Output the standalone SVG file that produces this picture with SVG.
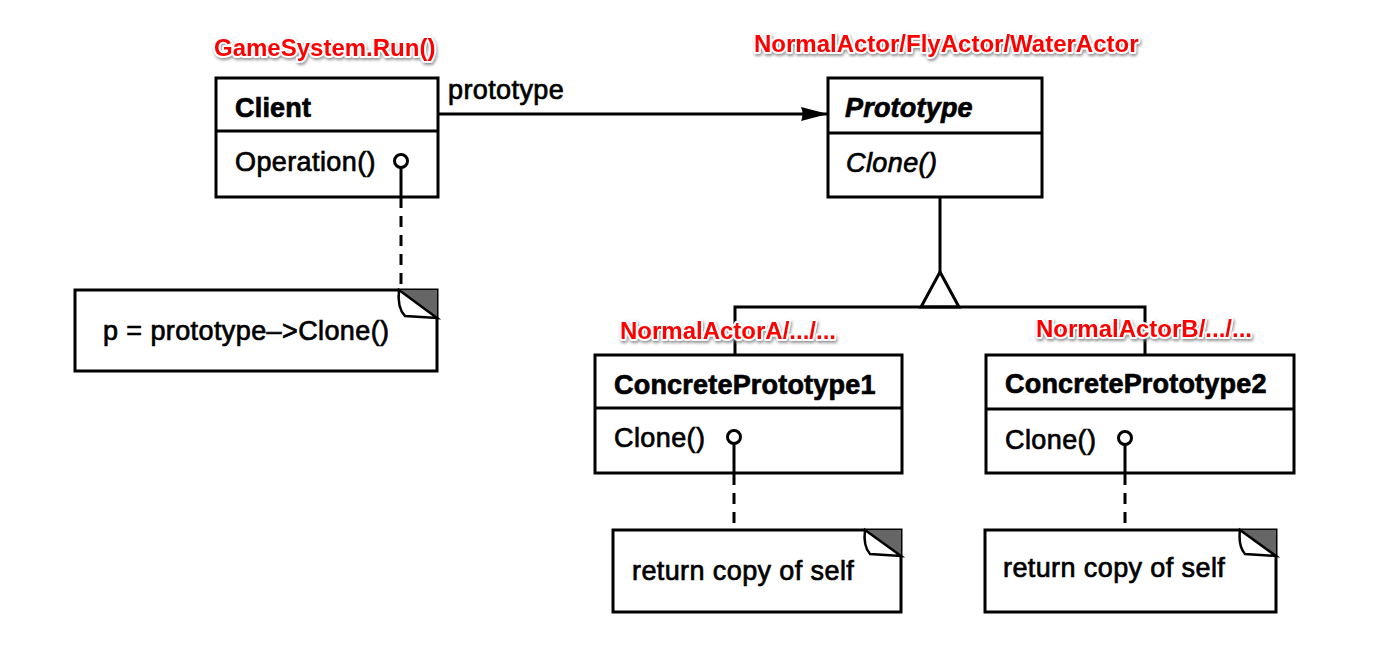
<svg xmlns="http://www.w3.org/2000/svg" width="1381" height="660" viewBox="0 0 1381 660">
<style>
.box{fill:#fff;stroke:#000;stroke-width:3}
.ln{fill:none;stroke:#000;stroke-width:3}
.dash{fill:none;stroke:#000;stroke-width:3;stroke-dasharray:11 8}
.t{font-family:"Liberation Sans",Arial,sans-serif;font-size:27px;letter-spacing:0.4px;fill:#000;stroke:#000;stroke-width:0.7}
.b{font-weight:bold;letter-spacing:0.2px}
.i{font-style:italic}
.red{font-family:"Liberation Sans",Arial,sans-serif;font-size:24px;font-weight:bold;fill:#f00;stroke:#fff;stroke-width:4;paint-order:stroke;stroke-linejoin:round;filter:url(#sh)}
.shade{fill:#666;stroke:none}
.fold{fill:#fff;stroke:#000;stroke-width:2.5}
.pin{fill:#fff;stroke:#000;stroke-width:3}
</style>
<defs>
<filter id="sh" x="-10%" y="-30%" width="120%" height="170%">
<feDropShadow dx="1" dy="2" stdDeviation="1.5" flood-color="#777" flood-opacity="0.8"/>
</filter>
<marker id="arr" markerWidth="30" markerHeight="20" refX="27" refY="10" orient="auto" markerUnits="userSpaceOnUse">
<path d="M0,3 L27,10 L0,17 Q3,10 0,3 Z" fill="#000"/>
</marker>
</defs>
<rect width="1381" height="660" fill="#fff"/>

<g id="connectors">
<line class="ln" x1="438" y1="114" x2="828" y2="114" marker-end="url(#arr)"/>
<line class="ln" x1="940" y1="197" x2="940" y2="272"/>
<path class="ln" d="M940,272 L921,307 L959,307 Z" fill="#fff"/>
<path class="ln" d="M735,355 V307 H1145 V355"/>
<line class="dash" x1="401" y1="197" x2="401" y2="290"/>
<line class="dash" x1="734" y1="474" x2="734" y2="530"/>
<line class="dash" x1="1125" y1="474" x2="1125" y2="530"/>
</g>

<g id="client">
<rect class="box" x="216" y="78" width="222" height="119"/>
<line class="ln" x1="216" y1="131" x2="438" y2="131"/>
<text class="t b" x="235" y="117">Client</text>
<text class="t" x="235" y="171">Operation()</text>
<circle class="pin" cx="401" cy="161" r="6.5"/>
<line class="ln" x1="401" y1="168" x2="401" y2="197"/>
</g>

<g id="client-note">
<path class="box" d="M75,290 H437 V371 H75 Z"/>
<path class="shade" d="M399,290 H437 V318 Z"/>
<path class="fold" d="M399,290 Q397,308 405,316 L437,318 Z"/>
<text class="t" x="103" y="340">p = prototype–&gt;Clone()</text>
</g>

<text class="t" x="448" y="99">prototype</text>

<g id="prototype">
<rect class="box" x="828" y="78" width="214" height="119"/>
<line class="ln" x1="828" y1="133" x2="1042" y2="133"/>
<text class="t b i" x="845" y="117">Prototype</text>
<text class="t i" x="846" y="172">Clone()</text>
</g>

<g id="concrete1">
<rect class="box" x="595" y="355" width="307" height="118"/>
<line class="ln" x1="595" y1="408" x2="902" y2="408"/>
<text class="t b" x="614" y="394">ConcretePrototype1</text>
<text class="t" x="614" y="447">Clone()</text>
<circle class="pin" cx="734" cy="437" r="6.5"/>
<line class="ln" x1="734" y1="444" x2="734" y2="474"/>
</g>

<g id="concrete2">
<rect class="box" x="986" y="355" width="308" height="118"/>
<line class="ln" x1="986" y1="409" x2="1294" y2="409"/>
<text class="t b" x="1005" y="393">ConcretePrototype2</text>
<text class="t" x="1005" y="449">Clone()</text>
<circle class="pin" cx="1125" cy="438" r="6.5"/>
<line class="ln" x1="1125" y1="445" x2="1125" y2="474"/>
</g>

<g id="note1">
<path class="box" d="M613,530 H901 V612 H613 Z"/>
<path class="shade" d="M865,530 H901 V556 Z"/>
<path class="fold" d="M865,530 Q863,546 870,554 L901,556 Z"/>
<text class="t" x="632" y="580">return copy of self</text>
</g>

<g id="note2">
<path class="box" d="M985,530 H1276 V612 H985 Z"/>
<path class="shade" d="M1240,530 H1276 V556 Z"/>
<path class="fold" d="M1240,530 Q1238,546 1245,554 L1276,556 Z"/>
<text class="t" x="1003" y="577">return copy of self</text>
</g>

<g id="labels">
<text class="red" x="214" y="56">GameSystem.Run()</text>
<text class="red" x="754" y="52">NormalActor/FlyActor/WaterActor</text>
<text class="red" x="620" y="339">NormalActorA/.../...</text>
<text class="red" x="1036" y="337">NormalActorB/.../...</text>
</g>
</svg>
